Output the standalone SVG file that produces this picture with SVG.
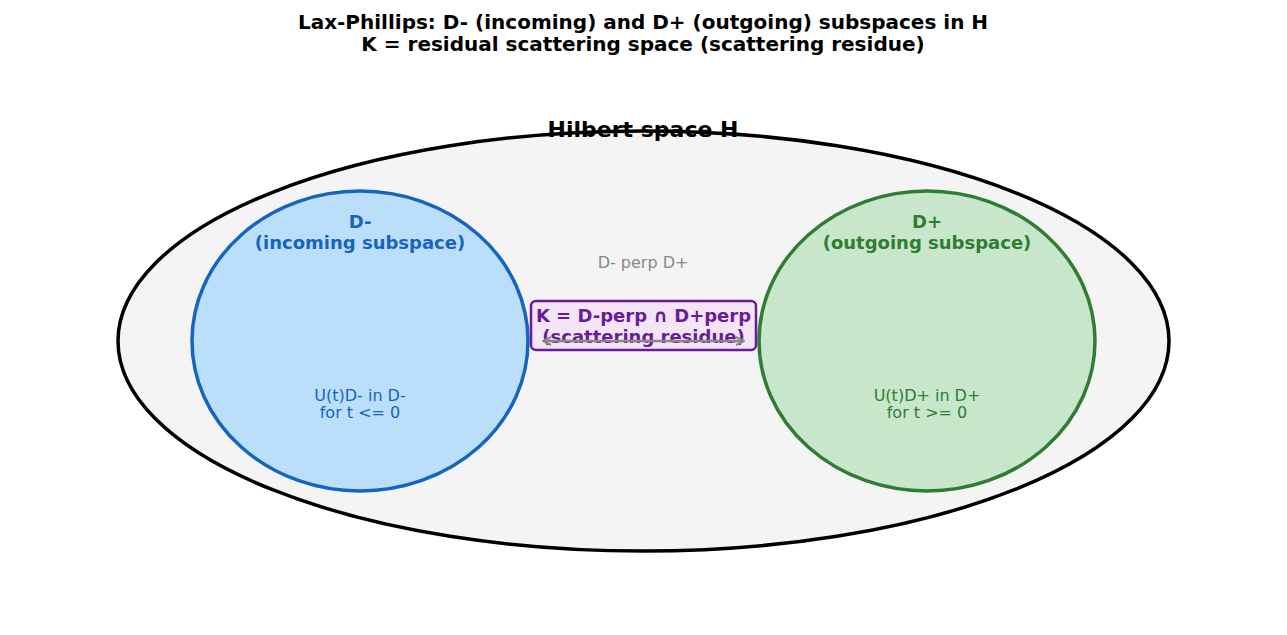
<svg xmlns="http://www.w3.org/2000/svg" width="1287" height="635" viewBox="0 0 1287 635">
<defs>
<style>
text{font-family:"DejaVu Sans","Liberation Sans",sans-serif;text-anchor:middle}
.title{font-size:20px;font-weight:bold;fill:#000}
.lbl{font-size:18px;font-weight:bold}
.sm{font-size:16px}
</style>
<marker id="ah" viewBox="0 0 10 10" refX="9" refY="5" markerWidth="10" markerHeight="10" markerUnits="userSpaceOnUse" orient="auto-start-reverse">
<path d="M1,1 L9,5 L1,9" fill="none" stroke="#888" stroke-width="2"/>
</marker>
</defs>
<rect width="1287" height="635" fill="#fff"/>
<text class="title" x="643" y="29">Lax-Phillips: D- (incoming) and D+ (outgoing) subspaces in H</text>
<text class="title" x="643" y="51">K = residual scattering space (scattering residue)</text>
<g id="hilbert">
<ellipse cx="643.5" cy="341" rx="525.5" ry="210" fill="#f4f4f4" stroke="#000" stroke-width="3.5"/>
<text x="643" y="137" style="font-size:22px;font-weight:bold">Hilbert space H</text>
</g>
<g id="dminus">
<ellipse cx="360" cy="341" rx="168" ry="150" fill="#bbdefb" stroke="#1565c0" stroke-width="3.5"/>
<text class="lbl" x="360" y="228" fill="#1565c0">D-</text>
<text class="lbl" x="360" y="249" fill="#1565c0">(incoming subspace)</text>
<text class="sm" x="360" y="401" fill="#1565c0">U(t)D- in D-</text>
<text class="sm" x="360" y="418" fill="#1565c0">for t &lt;= 0</text>
</g>
<g id="dplus">
<ellipse cx="927" cy="341" rx="168" ry="150" fill="#c8e6c9" stroke="#2e7d32" stroke-width="3.5"/>
<text class="lbl" x="927" y="228" fill="#2e7d32">D+</text>
<text class="lbl" x="927" y="249" fill="#2e7d32">(outgoing subspace)</text>
<text class="sm" x="927" y="401" fill="#2e7d32">U(t)D+ in D+</text>
<text class="sm" x="927" y="418" fill="#2e7d32">for t &gt;= 0</text>
</g>
<g id="k">
<rect x="531" y="301" width="225" height="49" rx="5" fill="#f3e5f5" stroke="#6a1b9a" stroke-width="2.5"/>
<text class="lbl" x="643.5" y="322" fill="#6a1b9a">K = D-perp ∩ D+perp</text>
<text class="lbl" x="643.5" y="343" fill="#6a1b9a">(scattering residue)</text>
</g>
<g id="connectors">
<text class="sm" x="643" y="268" fill="#888">D- perp D+</text>
<line x1="543" y1="341" x2="744" y2="341" stroke="#888" stroke-width="2.5" marker-start="url(#ah)" marker-end="url(#ah)"/>
</g>
</svg>
